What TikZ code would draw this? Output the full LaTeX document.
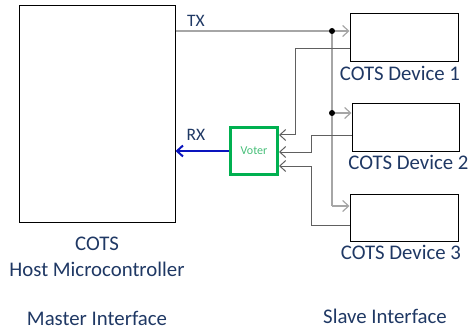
\documentclass[tikz,border=0pt]{standalone}
\usepackage{fontspec}
\setmainfont{Carlito}
\usetikzlibrary{positioning,arrows.meta}
\definecolor{txtblue}{RGB}{31,56,100}
\definecolor{votergreen}{RGB}{0,176,80}
\definecolor{votertext}{RGB}{70,190,120}
\definecolor{rxblue}{RGB}{10,20,190}
\definecolor{busgrey}{RGB}{166,166,166}
\definecolor{wiregrey}{RGB}{96,96,96}

\begin{document}
\begin{tikzpicture}[
    x=1pt, y=-1pt,
    box/.style={
        rectangle,
        draw=black,
        line width=1pt,
        inner sep=0pt
    },
    lbl/.style={text=txtblue, font=\fontsize{20.8}{26}\selectfont, inner sep=0pt, align=center},
    sig/.style={text=txtblue, font=\fontsize{17.5}{20}\selectfont, inner sep=0pt},
    bus/.style={busgrey, line width=1.2pt},
    wire/.style={wiregrey, line width=1pt},
    tip/.style={-{Straight Barb[length=6pt,width=11pt]}},
    rx/.style={rxblue, line width=2pt, -{Straight Barb[length=6pt,width=11pt]}},
    dot/.style={circle, fill=black, inner sep=0pt, minimum size=6pt}
]
\useasboundingbox (0,0) rectangle (470,331);

% blocks
\node[box, minimum width=156pt, minimum height=216pt] (host) at (97,114) {};
\node[box, minimum width=108pt, minimum height=48pt] (dev1) at (404,38) {};
\node[box, minimum width=107pt, minimum height=47pt] (dev2) at (405.5,127.5) {};
\node[box, minimum width=108pt, minimum height=47pt] (dev3) at (404,217.5) {};
\node[box, draw=votergreen, line width=3pt, minimum size=47pt, text=votertext,
      font=\fontsize{12}{14}\selectfont] (voter) at (254,151) {Voter};

% labels
\node[lbl, below=14pt of host] (hostlbl) {COTS\\Host Microcontroller};
\node[lbl, below=34pt of hostlbl] (master) {Master Interface};
\node[lbl, below=3pt of dev1, xshift=-4pt] (dev1lbl) {COTS Device 1};
\node[lbl, below=3pt of dev2, xshift=3pt] (dev2lbl) {COTS Device 2};
\node[lbl, below=3pt of dev3, xshift=-3pt] (dev3lbl) {COTS Device 3};
\node[lbl] (slave) at (385,316) {Slave Interface};
\node[sig] (tx) at (196,21) {TX};
\node[sig] (rxl) at (196,135) {RX};

% TX bus
\coordinate (jtx) at (332,31);
\coordinate (jd2) at (332,113);
\coordinate (jd3) at (332,206);
\draw[bus] (host.east |- jtx) -- (jtx);
\draw[bus, tip] (jtx) -- (jtx -| dev1.west);
\draw[bus] (jtx) -- (jd2) -- (jd3);
\draw[bus, tip] (jd2) -- (jd2 -| dev2.west);
\draw[bus, tip] (jd3) -- (jd3 -| dev3.west);

% device outputs to voter
\draw[wire, tip] ([yshift=-11pt]dev1.west) -| (295,135) -- ([yshift=16pt]voter.east);
\draw[wire, tip] ([yshift=-8.5pt]dev2.west) -| (311,152) -- ([yshift=-1pt]voter.east);
\draw[wire, tip] ([yshift=-7.5pt]dev3.west) -| (311,166) -- ([yshift=-15pt]voter.east);

% RX
\draw[rx] (voter.west) -- (voter.west -| host.east);

\node[dot] (jtxdot) at (jtx) {};
\node[dot] (jd2dot) at (jd2) {};
\end{tikzpicture}
\end{document}
